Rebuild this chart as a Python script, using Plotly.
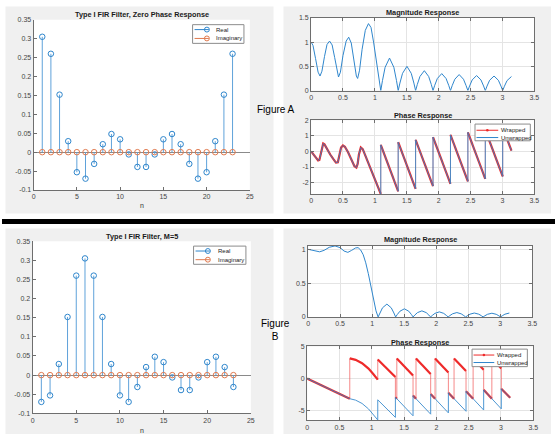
import plotly.graph_objects as go

W, H = 560, 441

# ---------------- data ----------------
n = [1, 2, 3, 4, 5, 6, 7, 8, 9, 10, 11, 12, 13, 14, 15, 16, 17, 18, 19, 20, 21, 22, 23]

hA_real = [0.305, 0.26, 0.152, 0.029, -0.053, -0.07, -0.031, 0.021, 0.048, 0.034, -0.006, -0.039,
           -0.039, -0.006, 0.034, 0.048, 0.021, -0.031, -0.07, -0.053, 0.029, 0.152, 0.26]
hA_imag = [0, 0, 0, 0, 0, 0, 0, 0, 0, 0, 0, 0, 0, 0, 0, 0, 0, 0, 0, 0, 0, 0, 0]

hB_real = [-0.07, -0.053, 0.029, 0.152, 0.26, 0.305, 0.26, 0.152, 0.029, -0.053, -0.07, -0.031,
           0.021, 0.048, 0.034, -0.006, -0.039, -0.039, -0.006, 0.034, 0.048, 0.021, -0.031]
hB_imag = [0, 0, 0, 0, 0, 0, 0, 0, 0, 0, 0, 0, 0, 0, 0, 0, 0, 0, 0, 0, 0, 0, 0]

# magnitude responses
w_magA = [0, 0.03, 0.07, 0.11, 0.14, 0.17, 0.21, 0.25, 0.29, 0.33,
          0.37, 0.41, 0.43, 0.46, 0.50, 0.55, 0.59, 0.63, 0.67, 0.71,
          0.73, 0.76, 0.80, 0.85, 0.90, 0.94, 0.98, 1.02, 1.06, 1.093,
          1.120, 1.161, 1.230, 1.298, 1.339, 1.366,
          1.393, 1.434, 1.503, 1.571, 1.612, 1.639,
          1.666, 1.707, 1.776, 1.844, 1.885, 1.912,
          1.939, 1.980, 2.049, 2.117, 2.158, 2.186,
          2.213, 2.254, 2.322, 2.390, 2.431, 2.459,
          2.486, 2.527, 2.595, 2.664, 2.705, 2.732,
          2.759, 2.800, 2.869, 2.937, 2.978, 3.005,
          3.032, 3.073, 3.142]
magA = [1.00, 0.93, 0.66, 0.38, 0.30, 0.40, 0.70, 0.95, 1.02, 0.94,
        0.68, 0.36, 0.28, 0.38, 0.72, 1.02, 1.10, 0.98, 0.65, 0.30,
        0.25, 0.42, 0.85, 1.24, 1.38, 1.30, 1.00, 0.62, 0.28, 0.00,
        0.21, 0.48, 0.67, 0.48, 0.21, 0.00,
        0.155, 0.355, 0.50, 0.355, 0.155, 0.00,
        0.127, 0.291, 0.41, 0.291, 0.127, 0.00,
        0.109, 0.249, 0.35, 0.249, 0.109, 0.00,
        0.102, 0.234, 0.33, 0.234, 0.102, 0.00,
        0.096, 0.220, 0.31, 0.220, 0.096, 0.00,
        0.093, 0.213, 0.30, 0.213, 0.093, 0.00,
        0.090, 0.206, 0.29]

w_magB = [0, 0.06, 0.12, 0.18, 0.25, 0.33, 0.42, 0.50, 0.56, 0.62,
          0.68, 0.74, 0.78, 0.82, 0.86, 0.90, 0.94, 0.98, 1.02, 1.06, 1.093,
          1.120, 1.161, 1.230, 1.298, 1.339, 1.366,
          1.393, 1.434, 1.503, 1.571, 1.612, 1.639,
          1.666, 1.707, 1.776, 1.844, 1.885, 1.912,
          1.939, 1.980, 2.049, 2.117, 2.158, 2.186,
          2.213, 2.254, 2.322, 2.390, 2.431, 2.459,
          2.486, 2.527, 2.595, 2.664, 2.705, 2.732,
          2.759, 2.800, 2.869, 2.937, 2.978, 3.005,
          3.032, 3.073, 3.142]
magB = [1.00, 0.99, 0.97, 0.963, 0.985, 1.03, 1.05, 1.025, 0.975, 0.955,
        0.985, 1.02, 1.025, 0.99, 0.92, 0.80, 0.64, 0.46, 0.26, 0.09, 0.00,
        0.059, 0.135, 0.19, 0.135, 0.059, 0.00,
        0.037, 0.085, 0.12, 0.085, 0.037, 0.00,
        0.028, 0.064, 0.09, 0.064, 0.028, 0.00,
        0.023, 0.053, 0.075, 0.053, 0.023, 0.00,
        0.020, 0.046, 0.065, 0.046, 0.020, 0.00,
        0.018, 0.041, 0.058, 0.041, 0.018, 0.00,
        0.017, 0.039, 0.055, 0.039, 0.017, 0.00,
        0.018, 0.041, 0.058]

# phase responses
w_phaseA = [0, 0.04, 0.08, 0.11, 0.13, 0.15, 0.17, 0.19, 0.21, 0.25,
            0.30, 0.35, 0.39, 0.42, 0.44, 0.47, 0.50, 0.53, 0.58, 0.63,
            0.68, 0.71, 0.73, 0.75, 0.78, 0.81, 0.86, 0.92, 0.98, 1.04, 1.093,
            1.093, 1.366, 1.366, 1.639, 1.639, 1.912, 1.912, 2.186, 2.186, 2.459,
            2.459, 2.732, 2.732, 3.005, 3.005, 3.142]
phaseA_wrapped = [0, -0.22, -0.45, -0.58, -0.55, -0.20, 0.30, 0.50, 0.45, 0.15,
                  -0.20, -0.50, -0.72, -0.70, -0.30, 0.25, 0.38, 0.30, -0.05, -0.50,
                  -0.95, -1.03, -0.80, -0.20, 0.25, 0.15, -0.35, -0.95, -1.55, -2.20, -2.72,
                  0.42, -2.55, 0.59, -2.40, 0.74, -2.22, 0.92, -2.08, 1.06, -1.92,
                  1.22, -1.76, 1.38, -1.60, 1.54, 0.05]
phaseA_unwrapped = phaseA_wrapped  # unwrap leaves this phase unchanged

w_phaseB_wrapped = [0, 0.1, 0.2, 0.3, 0.4, 0.5, 0.6, 0.66,
                    0.66, 0.75, 0.85, 0.95, 1.02, 1.093,
                    1.093, 1.366,
                    1.366, 1.388, 1.388, 1.639,
                    1.639, 1.685, 1.685, 1.912,
                    1.912, 1.980, 1.980, 2.186,
                    2.186, 2.274, 2.274, 2.459,
                    2.459, 2.569, 2.569, 2.732,
                    2.732, 2.859, 2.859, 3.005,
                    3.005, 3.142]
phaseB_wrapped = [0, -0.47, -0.95, -1.43, -1.90, -2.38, -2.85, -3.14,
                  3.14, 2.92, 2.40, 1.55, 0.75, -0.17,
                  2.97, 0.23,
                  -2.91, -3.14, 3.14, 0.48,
                  -2.66, -3.14, 3.14, 0.73,
                  -2.41, -3.14, 3.14, 0.93,
                  -2.21, -3.14, 3.14, 1.18,
                  -1.96, -3.14, 3.14, 1.38,
                  -1.76, -3.14, 3.14, 1.56,
                  -1.58, -3.00]

w_phaseB_unwrapped = [0, 0.1, 0.2, 0.3, 0.4, 0.5, 0.6, 0.66,
                      0.75, 0.85, 0.95, 1.02, 1.093,
                      1.093, 1.366, 1.366, 1.639, 1.639, 1.912, 1.912, 2.186,
                      2.186, 2.459, 2.459, 2.732, 2.732, 3.005, 3.005, 3.142]
phaseB_unwrapped = [0, -0.47, -0.95, -1.43, -1.90, -2.38, -2.85, -3.14,
                    -3.36, -3.88, -4.73, -5.53, -6.45,
                    -3.31, -6.05, -2.91, -5.80, -2.66, -5.55, -2.41, -5.35,
                    -2.21, -5.10, -1.96, -4.90, -1.76, -4.72, -1.58, -3.00]

# ticks
n_ticks = [0, 5, 10, 15, 20, 25]
n_ticklabels = ['0', '5', '10', '15', '20', '25']
h_ticks = [-0.1, -0.05, 0, 0.05, 0.1, 0.15, 0.2, 0.25, 0.3, 0.35]
h_ticklabels = ['-0.1', '-0.05', '0', '0.05', '0.1', '0.15', '0.2', '0.25', '0.3', '0.35']
w_ticks = [0, 0.5, 1, 1.5, 2, 2.5, 3, 3.5]
w_ticklabels = ['0', '0.5', '1', '1.5', '2', '2.5', '3', '3.5']
magA_ticks = [0, 0.5, 1, 1.5]
magA_ticklabels = ['0', '0.5', '1', '1.5']
phaseA_ticks = [-2, -1, 0, 1, 2]
phaseA_ticklabels = ['-2', '-1', '0', '1', '2']
magB_ticks = [0, 0.5, 1]
magB_ticklabels = ['0', '0.5', '1']
phaseB_ticks = [-5, 0, 5]
phaseB_ticklabels = ['-5', '0', '5']

# ---------------- styling ----------------
BLUE = '#2f86cc'
BLUE_STEM = '#5fa2da'
ORANGE = '#e07a4f'
RED = '#ee2a2a'
AXC = '#6e6e6e'
GRID = '#e4e4e4'
PANEL = '#f0f0f0'
FONT = 'Liberation Sans, Arial, Helvetica, sans-serif'
TICKFONT = dict(family=FONT, size=7, color='#454545')


def px(x):
    return x / W


def py(y):
    return 1 - y / H


fig = go.Figure()


def stems(xs, ys):
    sx, sy = [], []
    for a, b in zip(xs, ys):
        sx += [a, a, None]
        sy += [0, b, None]
    return sx, sy


def add_stem(xs, re, im, xa, ya):
    sx, sy = stems(xs, re)
    fig.add_trace(go.Scatter(x=sx, y=sy, mode='lines', line=dict(color=BLUE_STEM, width=1),
                             xaxis=xa, yaxis=ya, hoverinfo='skip'))
    fig.add_trace(go.Scatter(x=xs, y=re, mode='markers', name='Real',
                             marker=dict(symbol='circle-open', size=5.5, color=BLUE, line=dict(width=1)),
                             xaxis=xa, yaxis=ya))
    fig.add_trace(go.Scatter(x=xs, y=im, mode='markers', name='Imaginary',
                             marker=dict(symbol='circle-open', size=5.5, color=ORANGE, line=dict(width=1)),
                             xaxis=xa, yaxis=ya))


add_stem(n, hA_real, hA_imag, 'x', 'y')
add_stem(n, hB_real, hB_imag, 'x2', 'y2')

fig.add_trace(go.Scatter(x=w_magA, y=magA, mode='lines', line=dict(color=BLUE, width=1),
                         xaxis='x3', yaxis='y3'))
fig.add_trace(go.Scatter(x=w_magB, y=magB, mode='lines', line=dict(color=BLUE, width=1),
                         xaxis='x5', yaxis='y5'))


def break_jumps(xs, ys):
    bx, by = [], []
    for i, (a, b) in enumerate(zip(xs, ys)):
        if i > 0 and a == xs[i - 1]:
            bx.append(None)
            by.append(None)
        bx.append(a)
        by.append(b)
    return bx, by


def add_phase(wx, wy, ux, uy, xa, ya):
    fig.add_trace(go.Scatter(x=wx, y=wy, mode='lines', line=dict(color=RED, width=1),
                             opacity=0.55, xaxis=xa, yaxis=ya, name='Wrapped'))
    bx, by = break_jumps(wx, wy)
    fig.add_trace(go.Scatter(x=bx, y=by, mode='lines', line=dict(color=RED, width=2.2),
                             xaxis=xa, yaxis=ya, connectgaps=False, hoverinfo='skip'))
    fig.add_trace(go.Scatter(x=ux, y=uy, mode='lines', line=dict(color=BLUE, width=1),
                             opacity=0.85, xaxis=xa, yaxis=ya, name='Unwrapped'))


add_phase(w_phaseA, phaseA_wrapped, w_phaseA, phaseA_unwrapped, 'x4', 'y4')
add_phase(w_phaseB_wrapped, phaseB_wrapped, w_phaseB_unwrapped, phaseB_unwrapped, 'x6', 'y6')

# ---------------- axes ----------------
axes_px = {
    1: dict(x=(32, 251), y=(16, 189), xr=[0, 25], yr=[-0.1, 0.35], xt=(n_ticks, n_ticklabels),
            yt=(h_ticks, h_ticklabels), box=False),
    2: dict(x=(31, 252), y=(241, 416), xr=[0, 25], yr=[-0.1, 0.35], xt=(n_ticks, n_ticklabels),
            yt=(h_ticks, h_ticklabels), box=False),
    3: dict(x=(313, 539), y=(14, 88), xr=[0, 3.5], yr=[0, 1.5], xt=(w_ticks, w_ticklabels),
            yt=(magA_ticks, magA_ticklabels), box=True),
    4: dict(x=(313, 539), y=(118, 193), xr=[0, 3.5], yr=[-2.72, 2], xt=(w_ticks, w_ticklabels),
            yt=(phaseA_ticks, phaseA_ticklabels), box=True),
    5: dict(x=(310, 537), y=(245.7, 318), xr=[0, 3.5], yr=[0, 1.052], xt=(w_ticks, w_ticklabels),
            yt=(magB_ticks, magB_ticklabels), box=True),
    6: dict(x=(309, 538), y=(348, 423), xr=[0, 3.5], yr=[-6.5, 5], xt=(w_ticks, w_ticklabels),
            yt=(phaseB_ticks, phaseB_ticklabels), box=True),
}

layout_axes = {}
shapes = []

# grey figure panels and separator
for (x0, y0, x1, y1) in [(3.5, 2.5, 275, 213), (285, 2.5, 556, 213),
                         (3.5, 228, 275, 437), (285, 228, 556, 437)]:
    shapes.append(dict(type='rect', xref='paper', yref='paper', x0=px(x0), x1=px(x1),
                       y0=py(y1), y1=py(y0), fillcolor=PANEL, line=dict(width=0), layer='below'))
shapes.append(dict(type='rect', xref='paper', yref='paper', x0=0, x1=1,
                   y0=py(223.5), y1=py(218.5), fillcolor='black', line=dict(width=0), layer='below'))

for k, a in axes_px.items():
    sfx = '' if k == 1 else str(k)
    xd = [px(a['x'][0]), px(a['x'][1])]
    yd = [py(a['y'][1]), py(a['y'][0])]
    shapes.append(dict(type='rect', xref='paper', yref='paper', x0=xd[0], x1=xd[1], y0=yd[0], y1=yd[1],
                       fillcolor='white', line=dict(width=0), layer='below'))
    common = dict(showline=True, linecolor=AXC, linewidth=1, ticks='inside', ticklen=3, tickcolor=AXC,
                  tickwidth=1, tickfont=TICKFONT, fixedrange=True, showgrid=a['box'], gridcolor=GRID,
                  gridwidth=1, mirror='ticks' if a['box'] else False)
    layout_axes['xaxis' + sfx] = dict(domain=xd, range=a['xr'], anchor='y' + sfx,
                                      tickvals=a['xt'][0], ticktext=a['xt'][1], zeroline=False, **common)
    layout_axes['yaxis' + sfx] = dict(domain=yd, range=a['yr'], anchor='x' + sfx,
                                      tickvals=a['yt'][0], ticktext=a['yt'][1],
                                      zeroline=not a['box'], zerolinecolor='#8a8a8a', zerolinewidth=1,
                                      **common)

# ---------------- manual legends ----------------
annotations = []


def ann(text, x, y, size=7, bold=False, anchor='center', color='#1a1a1a'):
    annotations.append(dict(text=('<b>%s</b>' % text) if bold else text, x=px(x), y=py(y),
                            xref='paper', yref='paper', showarrow=False, xanchor=anchor, yanchor='middle',
                            font=dict(family=FONT, size=size, color=color)))


def legend(box, rows, line_x, marker_x, text_x, kind):
    x0, y0, x1, y1 = box
    shapes.append(dict(type='rect', xref='paper', yref='paper', x0=px(x0), x1=px(x1), y0=py(y1), y1=py(y0),
                       fillcolor='white', line=dict(color='#8c8c8c', width=1), layer='above'))
    for (label, color, yrow, marker) in rows:
        shapes.append(dict(type='line', xref='paper', yref='paper', x0=px(line_x[0]), x1=px(line_x[1]),
                           y0=py(yrow), y1=py(yrow), line=dict(color=color, width=1), layer='above'))
        if marker == 'open':
            r = 2.5
            shapes.append(dict(type='circle', xref='paper', yref='paper', x0=px(marker_x - r), x1=px(marker_x + r),
                               y0=py(yrow + r), y1=py(yrow - r), line=dict(color=color, width=1),
                               fillcolor='rgba(0,0,0,0)', layer='above'))
        elif marker == 'dot':
            r = 1.3
            shapes.append(dict(type='circle', xref='paper', yref='paper', x0=px(marker_x - r), x1=px(marker_x + r),
                               y0=py(yrow + r), y1=py(yrow - r), line=dict(color=color, width=0),
                               fillcolor=color, layer='above'))
        ann(label, text_x, yrow, size=6, anchor='left', color='#222')


legend((193, 21, 245, 40), [('Real', BLUE, 26, 'open'), ('Imaginary', ORANGE, 35, 'open')],
       (195, 209.5), 207.5, 215, 'stem')
legend((194, 246, 247, 264.5), [('Real', BLUE, 251, 'open'), ('Imaginary', ORANGE, 259.8, 'open')],
       (196, 210.5), 208.5, 216.5, 'stem')
legend((479, 122, 535, 139), [('Wrapped', RED, 128.3, 'dot'), ('Unwrapped', BLUE, 135.7, None)],
       (480.5, 502.5), 491.5, 503.5, 'phase')
legend((476, 350.7, 532, 368.5), [('Wrapped', RED, 356.7, 'dot'), ('Unwrapped', BLUE, 364.3, None)],
       (477.5, 498.5), 488, 499.5, 'phase')

# ---------------- titles and labels ----------------
ann('Type I FIR Filter, Zero Phase Response', 141.5, 10.5, size=7.3, bold=True)
ann('Type I FIR Filter, M=5', 141.5, 236.5, size=7.3, bold=True)
ann('Magnitude Response', 426, 9, size=7.3, bold=True)
ann('Phase Response', 426, 113, size=7.3, bold=True)
ann('Magnitude Response', 423.5, 239.5, size=7.3, bold=True)
ann('Phase Response', 423.5, 344, size=7.3, bold=True)
ann('n', 141.5, 205, size=7, color='#333')
ann('n', 141.5, 433, size=7, color='#333')
ann('Figure A', 277.5, 107, size=10, color='black')
ann('Figure<br>B', 277, 331, size=10, color='black')

fig.update_layout(
    width=W, height=H, autosize=False,
    margin=dict(l=0, r=0, t=0, b=0, pad=0),
    paper_bgcolor='white', plot_bgcolor='rgba(0,0,0,0)',
    showlegend=False,
    shapes=shapes, annotations=annotations,
    **layout_axes,
)

fig.write_html("out.html")
